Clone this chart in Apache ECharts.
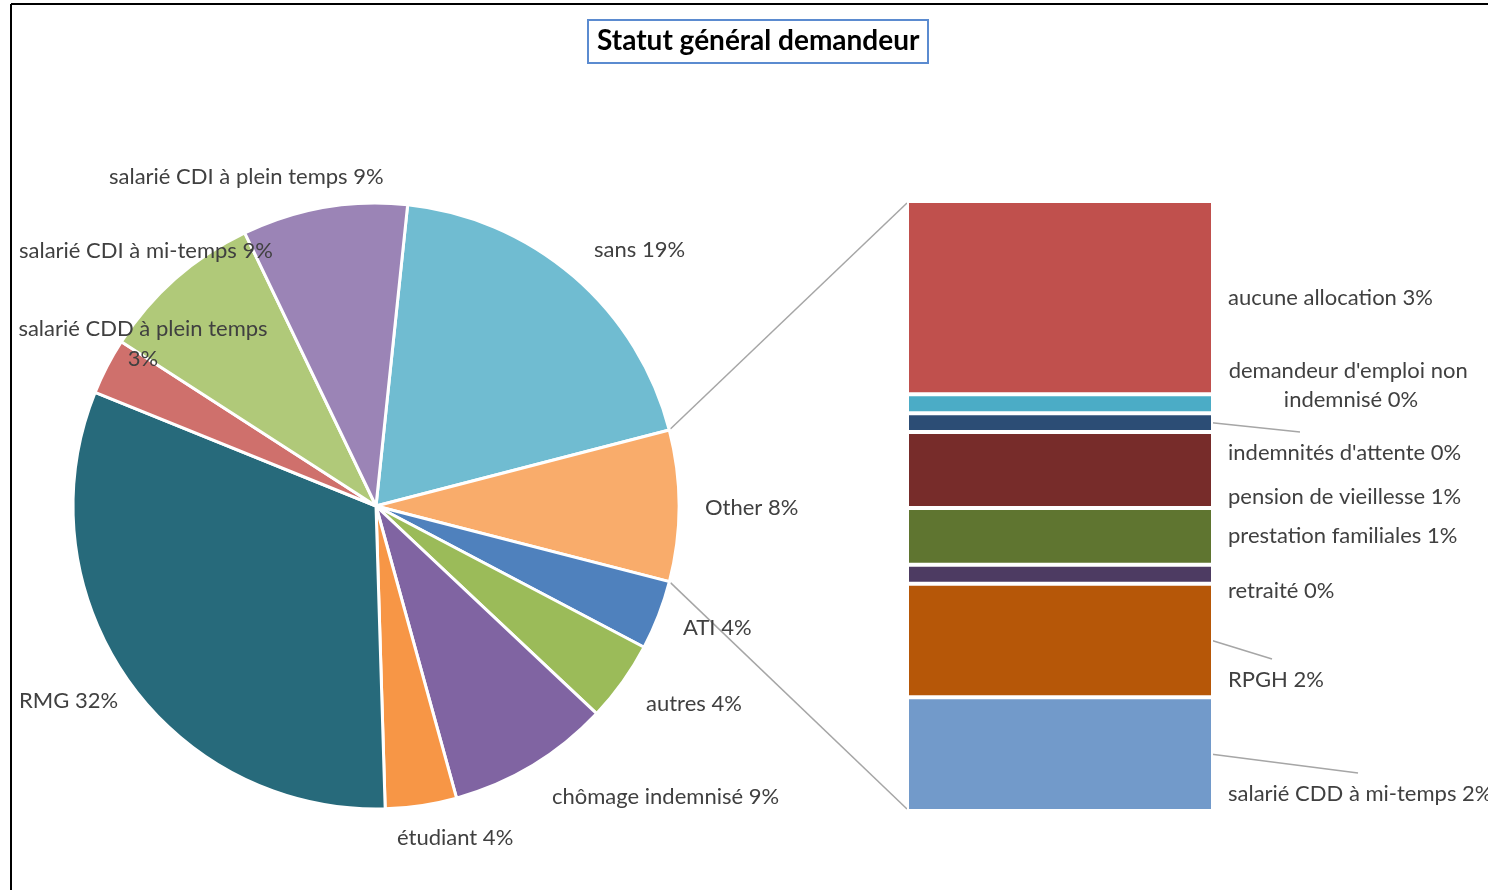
<!DOCTYPE html>
<html>
<head>
<meta charset="utf-8">
<script src="https://cdn.jsdelivr.net/npm/echarts@6/dist/echarts.min.js"></script>
<style>
html,body{margin:0;padding:0;background:#fff;}
#chart{width:1488px;height:890px;}
</style>
</head>
<body>
<div id="chart"></div>
<script>
// ---- data ----
const pieNames = ['sans', 'Other', 'ATI', 'autres', 'chômage indemnisé', 'étudiant', 'RMG',
  'salarié CDD à plein temps', 'salarié CDI à mi-temps', 'salarié CDI à plein temps'];
const pieValues = [19.3, 8.05, 3.7, 4.3, 8.7, 3.8, 31.6, 3.0, 8.75, 8.8];
const pieColors = ['#70BCD1', '#F9AC6B', '#4F81BD', '#9BBB59', '#8064A2', '#F79646', '#276A7B',
  '#CF706C', '#B0C979', '#9B84B6'];

// "Other" broken down (top to bottom in the bar)
const barNames = ['aucune allocation', "demandeur d'emploi non indemnisé", "indemnités d'attente",
  'pension de vieillesse', 'prestation familiales', 'retraité', 'RPGH', 'salarié CDD à mi-temps'];
const barValues = [2.55, 0.25, 0.25, 1.0, 0.75, 0.25, 1.5, 1.5];
const barColors = ['#C0504D', '#4BACC6', '#2C4D75', '#772C2A', '#5F7530', '#4D3B62', '#B65708', '#729ACA'];

// ---- layout (positions / styles) ----
const FONT = 'Lato';
const FS = 22;
const TXT = '#404040';
const pieCenter = [376, 506];
const pieRadius = 303;
const pieStart = 84;
const pieLabelPos = [
  {x: 594, y: 250, align: 'left'},
  {x: 705, y: 508, align: 'left'},
  {x: 683, y: 628, align: 'left'},
  {x: 646, y: 704, align: 'left'},
  {x: 552, y: 797, align: 'left'},
  {x: 397, y: 838, align: 'left'},
  {x: 19, y: 701, align: 'left'},
  {x: 143, y: 344, align: 'center'},
  {x: 19, y: 251, align: 'left'},
  {x: 109, y: 177, align: 'left'}
];
const pieLabelWrap = [false, false, false, false, false, false, false, true, false, false];
const barGrid = {left: 907, top: 201, width: 306, height: 610};
const barLabelPos = [
  {x: 1228, y: 298, align: 'left'},
  {x: 1351, y: 385, align: 'center'},
  {x: 1228, y: 453, align: 'left'},
  {x: 1228, y: 497, align: 'left'},
  {x: 1228, y: 536, align: 'left'},
  {x: 1228, y: 591, align: 'left'},
  {x: 1228, y: 680, align: 'left'},
  {x: 1228, y: 794, align: 'left'}
];
// leader line end offsets relative to label anchor (null = no leader)
const barLeaderEnd = [null, null, [72, -21], null, null, null, [44, -21], [130, -21]];
const LEADER = '#A6A6A6';

const chart = echarts.init(document.getElementById('chart'));

const pieTotal = pieValues.reduce((a, b) => a + b, 0);
const otherIdx = pieNames.indexOf('Other');
let before = 0;
for (let i = 0; i < otherIdx; i++) before += pieValues[i];
const a0 = (pieStart - before / pieTotal * 360) * Math.PI / 180;
const a1 = (pieStart - (before + pieValues[otherIdx]) / pieTotal * 360) * Math.PI / 180;
const p0 = [pieCenter[0] + pieRadius * Math.cos(a0), pieCenter[1] - pieRadius * Math.sin(a0)];
const p1 = [pieCenter[0] + pieRadius * Math.cos(a1), pieCenter[1] - pieRadius * Math.sin(a1)];

const barSum = barValues.reduce((a, b) => a + b, 0);

const barSeries = [];
for (let k = barNames.length - 1; k >= 0; k--) {
  const pos = barLabelPos[k];
  barSeries.push({
    type: 'bar',
    name: barNames[k],
    stack: 'other',
    xAxisIndex: 0, yAxisIndex: 0,
    barWidth: '100%',
    data: [barValues[k]],
    itemStyle: {color: barColors[k], borderColor: '#fff', borderWidth: 2},
    label: {
      show: true,
      formatter: barNames[k] + ' ' + Math.round(barValues[k]) + '%',
      fontFamily: FONT, fontSize: FS, color: TXT,
      width: k === 1 ? 262 : undefined,
      overflow: k === 1 ? 'break' : 'none',
      align: pos.align,
      lineHeight: 29
    },
    labelLine: {show: false},
    labelLayout: function () {
      return {x: pos.x, y: pos.y, align: pos.align, verticalAlign: 'middle', hideOverlap: false};
    },
    emphasis: {disabled: true}
  });
}

const option = {
  backgroundColor: '#fff',
  animation: false,
  title: {
    text: 'Statut général demandeur',
    left: 588,
    top: 20,
    padding: [5, 9, 6, 9],
    borderColor: '#5B8BD0',
    borderWidth: 2,
    textStyle: {fontFamily: FONT, fontWeight: 'bold', fontSize: 28, color: '#000', lineHeight: 32}
  },
  grid: barGrid,
  xAxis: {type: 'category', data: ['Other'], show: false},
  yAxis: {type: 'value', min: 0, max: barSum, show: false},
  series: [
    {
      type: 'pie',
      center: pieCenter,
      radius: pieRadius,
      startAngle: pieStart,
      clockwise: true,
      avoidLabelOverlap: false,
      data: pieNames.map((n, i) => ({
        name: n, value: pieValues[i],
        itemStyle: {color: pieColors[i]},
        label: pieLabelWrap[i] ? {align: 'center'} : {}
      })),
      itemStyle: {borderColor: '#fff', borderWidth: 3},
      label: {
        show: true,
        position: 'outside',
        formatter: p => p.name + (pieLabelWrap[p.dataIndex] ? '\n' : ' ') + Math.round(p.value) + '%',
        fontFamily: FONT, fontSize: FS, color: TXT, lineHeight: 30
      },
      labelLine: {show: false},
      labelLayout: function (params) {
        const pos = pieLabelPos[params.dataIndex];
        return {x: pos.x, y: pos.y, align: pos.align, verticalAlign: 'middle', hideOverlap: false};
      },
      emphasis: {disabled: true}
    }
  ].concat(barSeries)
};
chart.setOption(option);

// decorations: frame, connectors, leader lines (computed from the axes)
const graphics = [
  {type: 'line', shape: {x1: 11, y1: 4, x2: 1488, y2: 4}, style: {stroke: '#000', lineWidth: 2}},
  {type: 'line', shape: {x1: 11, y1: 4, x2: 11, y2: 890}, style: {stroke: '#000', lineWidth: 2}},
  {type: 'line', shape: {x1: p0[0], y1: p0[1], x2: barGrid.left, y2: barGrid.top + 2}, style: {stroke: LEADER, lineWidth: 1.5}},
  {type: 'line', shape: {x1: p1[0], y1: p1[1], x2: barGrid.left, y2: barGrid.top + barGrid.height - 2}, style: {stroke: LEADER, lineWidth: 1.5}}
];
let cumBelow = 0;
const cumFrom = [];
for (let k = barNames.length - 1; k >= 0; k--) { cumFrom[k] = cumBelow; cumBelow += barValues[k]; }
for (let k = 0; k < barNames.length; k++) {
  if (!barLeaderEnd[k]) continue;
  const mid = chart.convertToPixel({gridIndex: 0}, ['Other', cumFrom[k] + barValues[k] / 2]);
  const xr = barGrid.left + barGrid.width - 1;
  graphics.push({
    type: 'line',
    shape: {x1: xr, y1: mid[1], x2: barLabelPos[k].x + barLeaderEnd[k][0], y2: barLabelPos[k].y + barLeaderEnd[k][1]},
    style: {stroke: LEADER, lineWidth: 1.5}
  });
}
chart.setOption({graphic: graphics});
</script>
</body>
</html>
